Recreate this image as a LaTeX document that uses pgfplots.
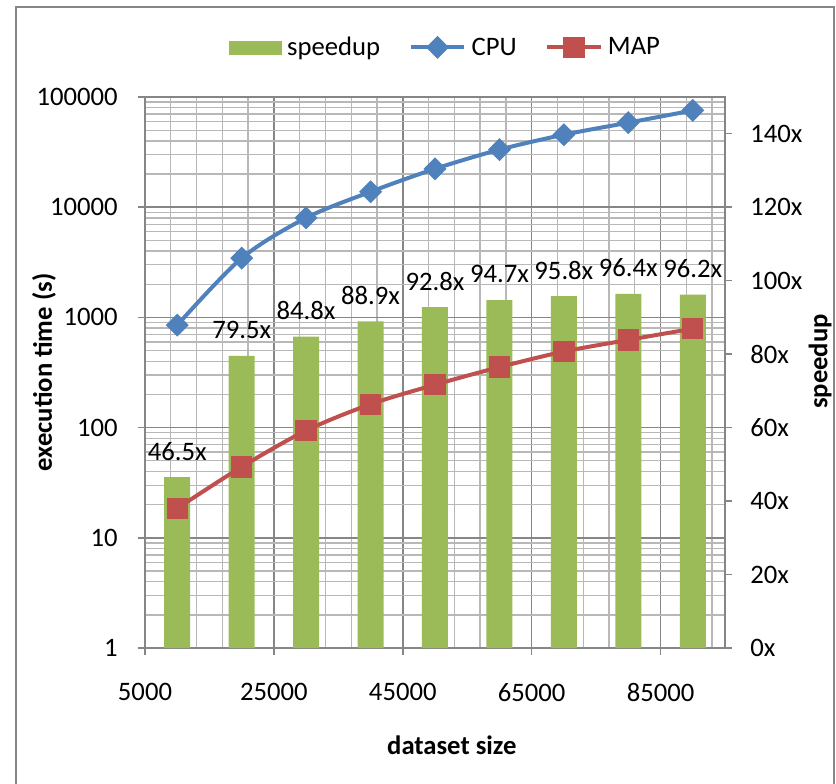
\documentclass[border=0pt]{standalone}
\usepackage{pgfplots}
\pgfplotsset{compat=1.18}
\usepackage{fontspec}
\setmainfont{Carlito}
\definecolor{barg}{HTML}{9BBB59}
\definecolor{cpub}{HTML}{4F81BD}
\definecolor{mapr}{HTML}{C0504D}
\definecolor{gmaj}{HTML}{868686}
\definecolor{gmin}{HTML}{B8B8B8}
\newcommand{\fs}{\fontsize{20}{24}\selectfont}
\begin{document}
\begin{tikzpicture}
\pgfplotsset{
 base/.style={scale only axis, width=435pt, height=413.25pt, at={(0pt,0pt)}, anchor=south west,
  xmin=5000, xmax=95000, font=\fs, /pgf/number format/assume math mode=true,
  scaled x ticks=false, scaled y ticks=false,
  axis line style={gmaj, line width=1.1pt}, tick style={gmaj, line width=1.1pt},
  major tick length=5.25pt, minor tick length=0pt, tick align=outside},
}
% grid + left/bottom axes
\begin{axis}[base, ymode=log, ymin=1, ymax=100000,
 xtick={5000,25000,45000,65000,85000}, xticklabels={5000,25000,45000,65000,85000},
 minor xtick={9000,13000,17000,21000,29000,33000,37000,41000,49000,53000,57000,61000,69000,73000,77000,81000,89000,93000},
 ytick={1,10,100,1000,10000,100000}, yticklabels={1,10,100,1000,10000,100000},
 minor ytick={2,3,4,5,6,7,8,9,20,30,40,50,60,70,80,90,200,300,400,500,600,700,800,900,2000,3000,4000,5000,6000,7000,8000,9000,20000,30000,40000,50000,60000,70000,80000,90000},
 tick pos=left,
 grid=both, major grid style={gmaj,line width=1.1pt}, minor grid style={gmin, line width=1pt},
 yticklabel style={inner sep=0pt, anchor=east, xshift=-15pt},
 xticklabel style={inner sep=0pt, anchor=north, yshift=-21pt},
 xlabel={\bfseries dataset size}, ylabel={\bfseries execution time (s)},
 xlabel style={at={(axis description cs:0.529,-0.176)}, anchor=center},
 ylabel style={at={(axis description cs:-0.174,0.5)}, anchor=center},
]
\end{axis}
% bars on right axis
\begin{axis}[base, ymin=0, ymax=150, axis x line=none, axis y line*=right,
 ytick={0,20,40,60,80,100,120,140}, yticklabels={0x,20x,40x,60x,80x,100x,120x,140x},
 yticklabel style={inner sep=0pt, anchor=west, xshift=13.5pt},
 ylabel={\bfseries speedup},
 ylabel style={at={(axis description cs:1.164,0.52)}, anchor=center},
]
\addplot[ybar, bar width=19.5pt, fill=barg, draw=none, point meta=explicit symbolic,
 nodes near coords, nodes near coords style={anchor=center, yshift=19.5pt, black, font=\fs}]
 coordinates {(10000,46.5)[46.5x] (20000,79.5)[79.5x] (30000,84.8)[84.8x] (40000,88.9)[88.9x]
 (50000,92.8)[92.8x] (60000,94.7)[94.7x] (70000,95.8)[95.8x] (80000,96.4)[96.4x] (90000,96.2)[96.2x]};
\end{axis}
% lines on log axis
\begin{axis}[base, ymode=log, ymin=1, ymax=100000, hide axis,
 legend style={at={(0.519,1.09)}, anchor=center, draw=none, fill=none, legend columns=3, font=\fs,
  nodes={inner sep=2pt},
  /tikz/every odd column/.append style={column sep=2pt},
  /tikz/every even column/.append style={column sep=19.5pt}},
 legend image code/.code={\draw[mark repeat=2,mark phase=2,#1] plot coordinates {(0pt,0pt) (20pt,0pt) (40pt,0pt)};},
]
\addlegendimage{legend image code/.code={\fill[barg] (0pt,-4.9pt) rectangle (39pt,4.9pt);}}
\addlegendentry{speedup}
\addplot[cpub, line width=3pt, smooth, mark=square*, mark size=4.6pt, mark options={rotate=45, solid, draw=none, fill=cpub}]
 coordinates {(10000,850) (20000,3450) (30000,8000) (40000,13800) (50000,22300) (60000,33300) (70000,45500) (80000,58500) (90000,75500)};
\addlegendentry{CPU}
\addplot[mapr, line width=3pt, smooth, mark=square*, mark size=6.5pt, mark options={solid, draw=none, fill=mapr}]
 coordinates {(10000,18.5) (20000,44) (30000,94) (40000,163) (50000,245) (60000,354) (70000,490) (80000,625) (90000,790)};
\addlegendentry{MAP}
\end{axis}
\draw[gmaj, line width=1.5pt] (-96.75pt,-115pt) rectangle (516.75pt,480.75pt);
\pgfresetboundingbox
\path[use as bounding box] (-108.75pt,-101.25pt) rectangle (518.25pt,486pt);
\end{tikzpicture}
\end{document}
